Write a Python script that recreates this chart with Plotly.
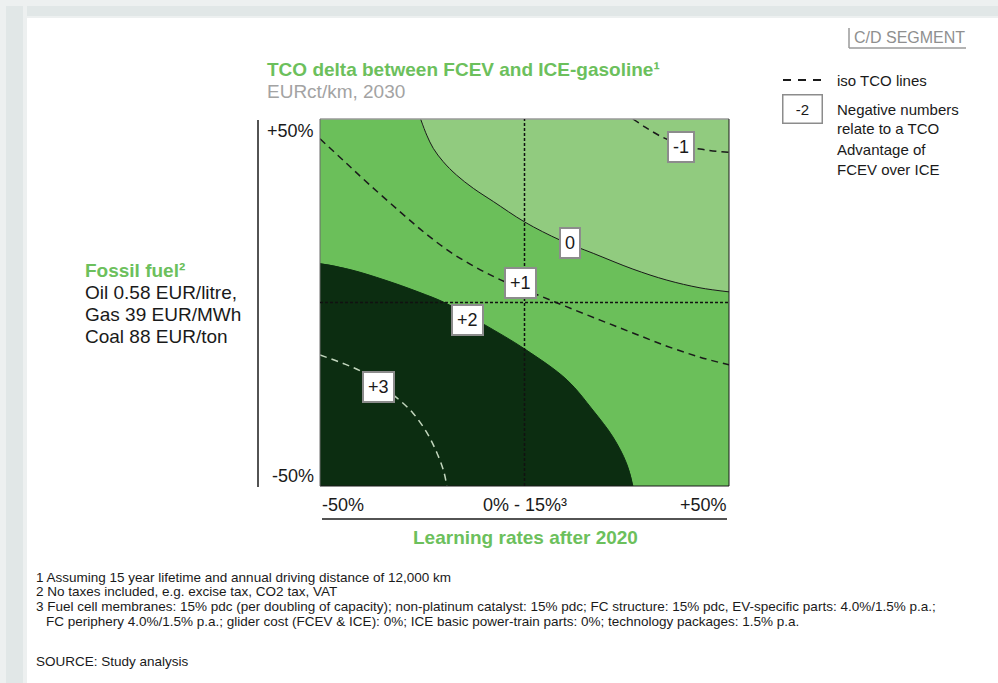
import plotly.graph_objects as go

# axis ranges (learning rate / fossil fuel price deviation, %)
x_range = [-50, 50]
y_range = [-50, 50]

# iso TCO "0" line = border of the light region (upper right)
zero_x = [-25.4, -23.9, -22.3, -19.9, -16.6, -12.5, -7.6, 0.1, 8.7, 16.8, 26.5, 34.8, 42.9, 50.0]
zero_y = [50.0, 45.6, 42.0, 38.4, 34.7, 31.1, 27.5, 21.9, 17.0, 13.4, 9.1, 6.1, 4.0, 2.9]

# "+2" line = border of the dark region (lower left)
dark_x = [-50.0, -42.4, -34.1, -26.0, -19.2, -9.7, 0.1, 10.4, 16.7, 21.6, 24.9, 26.5]
dark_y = [10.6, 8.9, 6.1, 2.9, -0.2, -6.1, -12.7, -21.1, -29.3, -36.6, -43.7, -50.0]

# dashed iso TCO lines
minus1_x = [26.5, 29.5, 33.1, 38.3, 42.9, 50.0]
minus1_y = [50.0, 47.8, 45.4, 42.9, 41.8, 40.9]

plus1_x = [-50.0, -43.9, -37.8, -30.4, -24.3, -18.2, -12.1, -5.7, 3.8, 10.4, 18.5, 26.5, 34.8, 42.9, 50.0]
plus1_y = [44.6, 38.3, 32.0, 24.7, 18.9, 13.8, 9.7, 6.1, 1.8, -1.2, -4.8, -8.3, -11.9, -14.9, -17.0]

plus3_x = [-50.0, -43.9, -39.7, -35.3, -31.2, -27.3, -23.8, -21.4, -19.7, -19.0]
plus3_y = [-14.3, -16.8, -18.9, -22.5, -26.0, -30.1, -35.6, -41.0, -46.2, -50.0]

# labels on the iso lines
iso_labels = ["-1", "0", "+1", "+2", "+3"]
label_x = [38.3, 11.2, -0.9, -13.9, -35.6]
label_y = [42.5, 16.3, 5.4, -4.8, -23.0]

# reference case (crosshair)
ref_x = 0
ref_y = 0

x_ticks = ["-50%", "0% - 15%³", "+50%"]
y_ticks = ["+50%", "-50%"]

footnotes = [
    "1 Assuming 15 year lifetime and annual driving distance of 12,000 km",
    "2 No taxes included, e.g. excise tax, CO2 tax, VAT",
    "3 Fuel cell membranes: 15% pdc (per doubling of capacity); non-platinum catalyst: 15% pdc; FC structure: 15% pdc, EV-specific parts: 4.0%/1.5% p.a.;",
    "FC periphery 4.0%/1.5% p.a.; glider cost (FCEV & ICE): 0%; ICE basic power-train parts: 0%; technology packages: 1.5% p.a.",
]

LIGHT = "#91cb7f"
MID = "#6bbf5a"
DARK = "#0c2d11"
GREEN_TXT = "#6cc05c"
FONT = "Arial, Liberation Sans, sans-serif"

# figure / plot area in pixels
W, H = 998, 683
L, R, T, B = 320, 729, 119, 486


def xp(px):
    return (px - L) / (R - L)


def yp(py):
    return (B - py) / (B - T)


pad = 15
fig = go.Figure()

# light region
fig.add_trace(go.Scatter(
    x=[zero_x[0]] + zero_x + [x_range[1] + pad, x_range[1] + pad],
    y=[y_range[1] + pad] + zero_y + [zero_y[-1], y_range[1] + pad],
    fill="toself", fillcolor=LIGHT, mode="lines",
    line=dict(width=0, shape="spline"), hoverinfo="skip", showlegend=False))

# dark region
fig.add_trace(go.Scatter(
    x=[x_range[0] - pad] + dark_x + [dark_x[-1], x_range[0] - pad],
    y=[dark_y[0]] + dark_y + [y_range[0] - pad, y_range[0] - pad],
    fill="toself", fillcolor=DARK, mode="lines",
    line=dict(width=0, shape="spline"), hoverinfo="skip", showlegend=False))

# borders and iso lines
fig.add_trace(go.Scatter(x=zero_x, y=zero_y, mode="lines",
                         line=dict(color="#1a1a1a", width=1, shape="spline"),
                         hoverinfo="skip", showlegend=False))
fig.add_trace(go.Scatter(x=dark_x, y=dark_y, mode="lines",
                         line=dict(color=DARK, width=1, shape="spline"),
                         hoverinfo="skip", showlegend=False))
for xs, ys, col in [(minus1_x, minus1_y, "#1a1a1a"), (plus1_x, plus1_y, "#1a1a1a"),
                    (plus3_x, plus3_y, "#c2d6bd")]:
    fig.add_trace(go.Scatter(x=xs, y=ys, mode="lines",
                             line=dict(color=col, width=1.5, dash="7px,5px", shape="spline"),
                             hoverinfo="skip", showlegend=False))

ann = []
for t, lx, ly in zip(iso_labels, label_x, label_y):
    ann.append(dict(x=lx, y=ly, xref="x", yref="y", text=t, showarrow=False,
                    font=dict(size=18, color="#1a1a1a", family=FONT),
                    bgcolor="white", bordercolor="#8c8c8c", borderwidth=2, borderpad=4))

# tick labels
tick_font = dict(size=18, color="#1a1a1a", family=FONT)
ann.append(dict(x=x_range[0], y=yp(505), xref="x", yref="paper", text=x_ticks[0], showarrow=False,
                xanchor="left", yanchor="middle", font=tick_font))
ann.append(dict(x=(x_range[0] + x_range[1]) / 2, y=yp(505), xref="x", yref="paper", text=x_ticks[1],
                showarrow=False, xanchor="center", yanchor="middle", font=tick_font))
ann.append(dict(x=x_range[1], y=yp(505), xref="x", yref="paper", text=x_ticks[2], showarrow=False,
                xanchor="right", yanchor="middle", font=tick_font))
ann.append(dict(x=xp(316), y=yp(131), xref="paper", yref="paper", text=y_ticks[0], showarrow=False,
                xanchor="right", yanchor="middle", font=tick_font))
ann.append(dict(x=xp(316), y=yp(476), xref="paper", yref="paper", text=y_ticks[1], showarrow=False,
                xanchor="right", yanchor="middle", font=tick_font))

# axis titles
ann.append(dict(x=xp(525), y=yp(537), xref="paper", yref="paper",
                text="<b>Learning rates after 2020</b>", showarrow=False,
                xanchor="center", yanchor="middle", font=dict(size=19, color=GREEN_TXT, family=FONT)))
left_lines = ["<b>Fossil fuel²</b>", "Oil 0.58 EUR/litre,", "Gas 39 EUR/MWh", "Coal 88 EUR/ton"]
for i, t in enumerate(left_lines):
    ann.append(dict(x=xp(83), y=yp(270 + 22 * i), xref="paper", yref="paper", text=t, showarrow=False,
                    xanchor="left", yanchor="middle",
                    font=dict(size=19, color=GREEN_TXT if i == 0 else "#1a1a1a", family=FONT)))

# title
ann.append(dict(x=xp(265), y=yp(69), xref="paper", yref="paper",
                text="<b>TCO delta between FCEV and ICE-gasoline¹</b>", showarrow=False,
                xanchor="left", yanchor="middle", font=dict(size=19, color=GREEN_TXT, family=FONT)))
ann.append(dict(x=xp(265), y=yp(92), xref="paper", yref="paper", text="EURct/km, 2030",
                showarrow=False, xanchor="left", yanchor="middle",
                font=dict(size=19, color="#a3a3a3", family=FONT)))

# segment tag and legend
ann.append(dict(x=xp(852), y=yp(37), xref="paper", yref="paper", text="C/D SEGMENT", showarrow=False,
                xanchor="left", yanchor="middle", font=dict(size=16, color="#8f8f8f", family=FONT)))
ann.append(dict(x=xp(835), y=yp(80), xref="paper", yref="paper", text="iso TCO lines", showarrow=False,
                xanchor="left", yanchor="middle", font=dict(size=15, color="#1a1a1a", family=FONT)))
ann.append(dict(x=xp(802), y=yp(109), xref="paper", yref="paper", text="-2", showarrow=False,
                xanchor="center", yanchor="middle", width=28,
                font=dict(size=15, color="#1a1a1a", family=FONT),
                bgcolor="white", bordercolor="#8c8c8c", borderwidth=1.5, borderpad=5))
legend_lines = ["Negative numbers", "relate to a TCO", "Advantage of", "FCEV over ICE"]
for i, t in enumerate(legend_lines):
    ann.append(dict(x=xp(835), y=yp(109 + 20 * i), xref="paper", yref="paper", text=t, showarrow=False,
                    xanchor="left", yanchor="middle", font=dict(size=15, color="#1a1a1a", family=FONT)))

# footnotes
foot_x = [34, 34, 34, 44]
foot_y = [577, 591, 606, 621]
for t, fx, fy in zip(footnotes, foot_x, foot_y):
    ann.append(dict(x=xp(fx), y=yp(fy), xref="paper", yref="paper", text=t,
                    showarrow=False, xanchor="left", yanchor="middle",
                    font=dict(size=13.5, color="#1a1a1a", family=FONT)))
ann.append(dict(x=xp(34), y=yp(661), xref="paper", yref="paper", text="SOURCE: Study analysis",
                showarrow=False, xanchor="left", yanchor="middle",
                font=dict(size=13.5, color="#1a1a1a", family=FONT)))

shapes = [
    # page shadow (top strip and left strip)
    dict(type="rect", xref="paper", yref="paper", x0=xp(0), x1=xp(W), y0=yp(0), y1=yp(18),
         fillcolor="#edf0f0", line_width=0, layer="above"),
    dict(type="rect", xref="paper", yref="paper", x0=xp(6), x1=xp(W), y0=yp(6), y1=yp(16),
         fillcolor="#e1e7e7", line_width=0, layer="above"),
    dict(type="rect", xref="paper", yref="paper", x0=xp(0), x1=xp(27), y0=yp(0), y1=yp(H),
         fillcolor="#edf0f0", line_width=0, layer="above"),
    dict(type="rect", xref="paper", yref="paper", x0=xp(6), x1=xp(23), y0=yp(6), y1=yp(H),
         fillcolor="#e1e7e7", line_width=0, layer="above"),
    # plot frame
    dict(type="line", xref="paper", yref="paper", x0=0, x1=1, y0=1, y1=1, line=dict(color="#9a9a9a", width=1.5)),
    dict(type="line", xref="paper", yref="paper", x0=1, x1=1, y0=0, y1=1, line=dict(color="#1a1a1a", width=1)),
    dict(type="line", xref="paper", yref="paper", x0=0, x1=1, y0=0, y1=0, line=dict(color="#1a1a1a", width=1)),
    dict(type="line", xref="paper", yref="paper", x0=0, x1=0, y0=0, y1=1, line=dict(color="#6a6a6a", width=1)),
    # axis lines outside the plot
    dict(type="line", xref="paper", yref="paper", x0=xp(258), x1=xp(258), y0=yp(120), y1=yp(487),
         line=dict(color="#1a1a1a", width=1.5)),
    dict(type="line", xref="paper", yref="paper", x0=xp(322), x1=xp(727), y0=yp(519), y1=yp(519),
         line=dict(color="#1a1a1a", width=1.5)),
    # segment tag frame
    dict(type="line", xref="paper", yref="paper", x0=xp(849), x1=xp(849), y0=yp(28), y1=yp(48),
         line=dict(color="#9a9a9a", width=1.5)),
    dict(type="line", xref="paper", yref="paper", x0=xp(849), x1=xp(966), y0=yp(48), y1=yp(48),
         line=dict(color="#9a9a9a", width=1.5)),
    # legend dashes
    dict(type="line", xref="paper", yref="paper", x0=xp(783), x1=xp(822), y0=yp(80), y1=yp(80),
         line=dict(color="#1a1a1a", width=2, dash="8px,7px")),
]

fig.update_layout(
    width=W, height=H, autosize=False,
    margin=dict(l=L, r=W - R, t=T, b=H - B, pad=0),
    plot_bgcolor=MID, paper_bgcolor="white",
    xaxis=dict(range=x_range, visible=False, fixedrange=True),
    yaxis=dict(range=y_range, visible=False, fixedrange=True),
    annotations=ann, shapes=shapes, showlegend=False,
    font=dict(family=FONT),
)

# crosshair at the reference case (added after the layout shapes)
fig.add_vline(x=ref_x, line=dict(color="#111", width=1.5, dash="3px,2px"))
fig.add_hline(y=ref_y, line=dict(color="#111", width=1.5, dash="3px,2px"))

fig.write_html("out.html", config={"displayModeBar": False},
               post_script="document.body.style.margin='0';")
